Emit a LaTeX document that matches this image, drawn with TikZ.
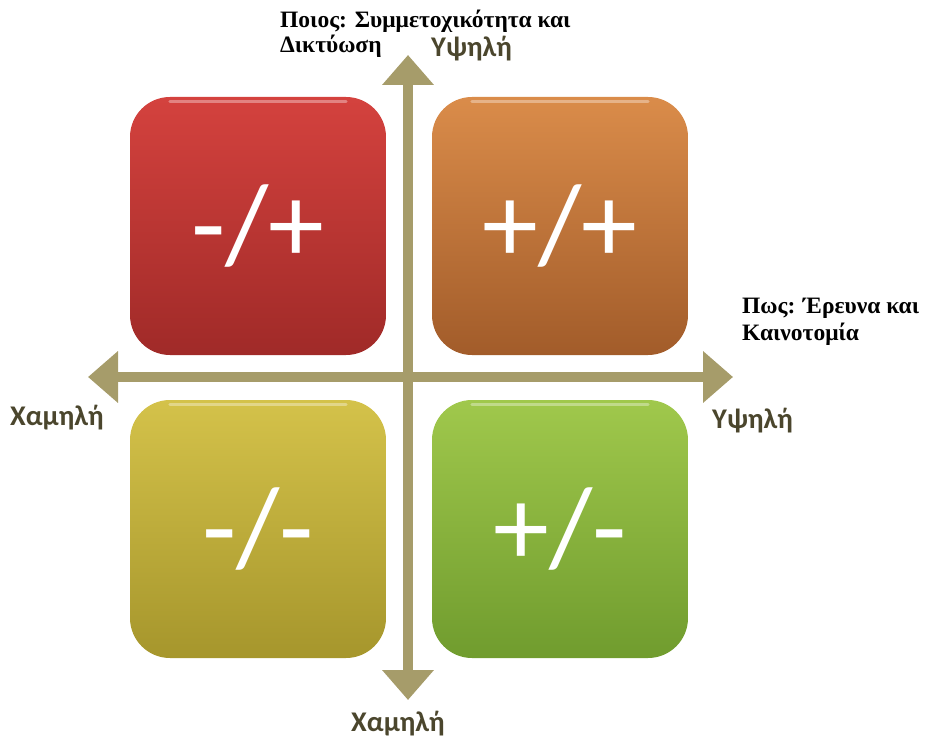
\documentclass[tikz,border=0pt]{standalone}
\usepackage{fontspec}
\setmainfont{Liberation Serif}
\newfontfamily\boxfont{Carlito}
\usetikzlibrary{arrows.meta}
\definecolor{axiscol}{RGB}{166,156,106}
\definecolor{labcol}{RGB}{75,70,45}
\definecolor{redT}{RGB}{212,66,62}
\definecolor{redB}{RGB}{160,42,40}
\definecolor{orT}{RGB}{218,140,74}
\definecolor{orB}{RGB}{162,92,42}
\definecolor{yeT}{RGB}{212,194,74}
\definecolor{yeB}{RGB}{166,150,44}
\definecolor{grT}{RGB}{160,200,76}
\definecolor{grB}{RGB}{112,156,46}
\tikzset{
  quadbox/.style={rounded corners=40pt, minimum width=256pt, minimum height=258pt,
    inner sep=0pt, text=white, font=\boxfont\fontsize{112}{112}\selectfont},
  gloss/.style={white, opacity=0.35, line width=3pt, line cap=round},
  axisline/.style={axiscol, line width=10pt,
    {Triangle[length=30pt,width=50pt]}-{Triangle[length=30pt,width=50pt]}},
  seriflab/.style={font=\bfseries\fontsize{23.5}{26}\selectfont, inner sep=0pt, anchor=base west},
  levlab/.style={font=\boxfont\bfseries\fontsize{28.5}{30}\selectfont, text=labcol, inner sep=0pt, anchor=base west}
}
\begin{document}
\begin{tikzpicture}[x=1pt,y=1pt]
\useasboundingbox (0,0) rectangle (926,-743);
% boxes
\node[quadbox, top color=redT, bottom color=redB] (tl) at (258,-226) {-/+};
\node[quadbox, top color=orT, bottom color=orB] (tr) at (560,-226) {+/+};
\node[quadbox, top color=yeT, bottom color=yeB] (bl) at (258,-529) {-/-};
\node[quadbox, top color=grT, bottom color=grB] (br) at (560,-529) {+/-};
% gloss highlights along the top edges
\foreach \b in {tl,tr,bl,br}{
  \draw[gloss] ([xshift=40pt,yshift=-5pt]\b.north west) -- ([xshift=-40pt,yshift=-5pt]\b.north east);
}
% axes
\coordinate (vtop) at (408,-55);
\coordinate (vbot) at (408,-700);
\coordinate (hleft) at (88,-377);
\coordinate (hright) at (733,-377);
\draw[axisline] (hleft) -- (hright);
\draw[axisline] (vbot) -- (vtop);
% labels
\node[seriflab] (who1) at (280,-28) {Ποιος: Συμμετοχικότητα και};
\node[seriflab] (who2) at (280,-53) {Δικτύωση};
\node[seriflab] (how1) at (742,-313) {Πως: Έρευνα και};
\node[seriflab] (how2) at (742,-340) {Καινοτομία};
\node[levlab] (hiV) at (431,-57) {Υψηλή};
\node[levlab] (hiH) at (712,-428) {Υψηλή};
\node[levlab] (loH) at (10,-425) {Χαμηλή};
\node[levlab] (loV) at (351,-731) {Χαμηλή};
\end{tikzpicture}
\end{document}
